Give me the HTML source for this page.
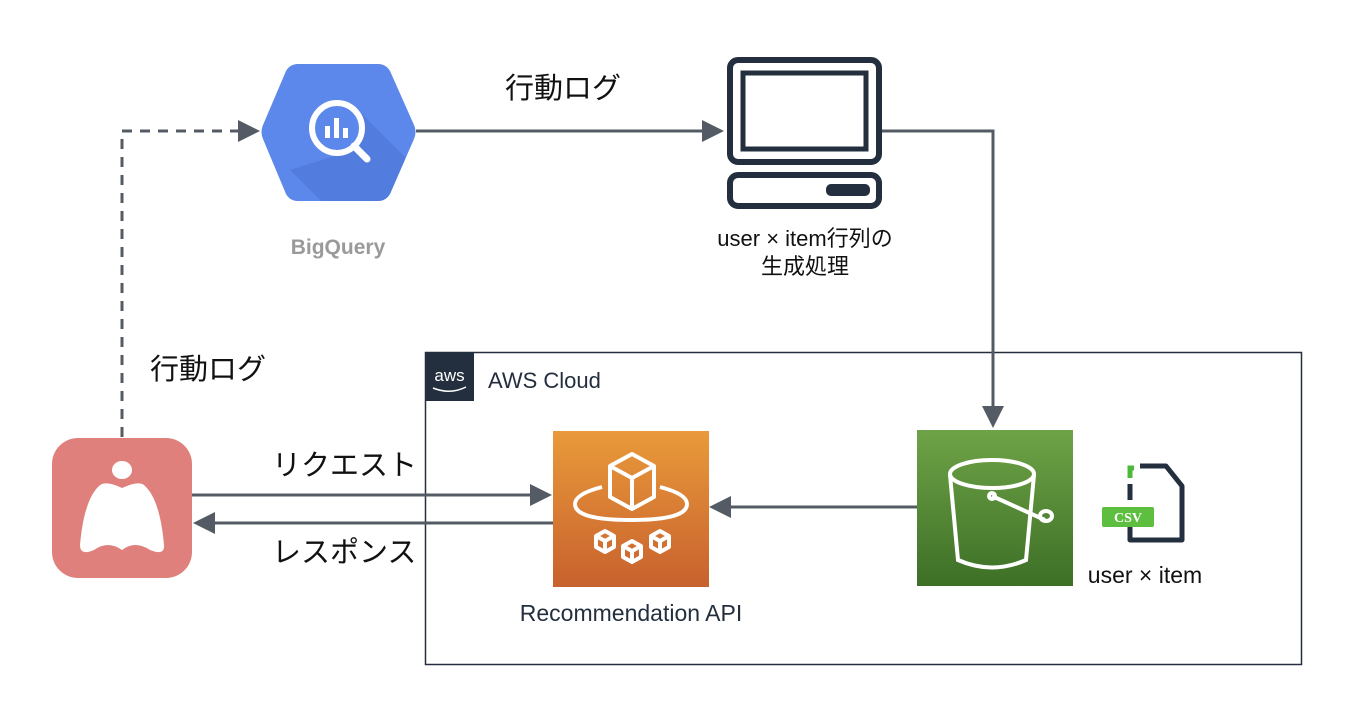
<!DOCTYPE html>
<html><head><meta charset="utf-8"><style>
body{margin:0;width:1348px;height:718px;background:#fff;overflow:hidden;font-family:"Liberation Sans","Noto Sans CJK JP",sans-serif}
</style></head><body>
<svg width="1348" height="718" viewBox="0 0 1348 718" xmlns="http://www.w3.org/2000/svg" style="position:absolute;left:0;top:0">
<defs>
<linearGradient id="og" x1="0" y1="0" x2="0" y2="1"><stop offset="0" stop-color="#E99A3A"/><stop offset="1" stop-color="#C8612E"/></linearGradient>
<linearGradient id="gg" x1="0" y1="0" x2="0" y2="1"><stop offset="0" stop-color="#6FA347"/><stop offset="1" stop-color="#3D6F26"/></linearGradient>
<clipPath id="hex"><path d="M298 64 H378 Q386 64 390 71 L414 125 Q417 132 414 139 L390 194 Q386 201 378 201 H298 Q290 201 286 194 L263 139 Q260 132 263 125 L286 71 Q290 64 298 64Z"/></clipPath>
</defs>
<!-- AWS box -->
<rect x="425.5" y="352.5" width="876" height="312" fill="none" stroke="#232F3E" stroke-width="1.5"/>
<rect x="425" y="352" width="49" height="49" fill="#232F3E"/>
<text x="449.5" y="381" font-size="17" fill="#fff" text-anchor="middle" font-family="Liberation Sans,sans-serif">aws</text>
<path d="M433 388 Q450 395 466 387" stroke="#fff" stroke-width="1.5" fill="none"/>
<text x="488" y="388" font-size="22" fill="#232F3E">AWS Cloud</text>

<!-- connectors -->
<path d="M122 437 V131 H244" stroke="#545B64" stroke-width="3" fill="none" stroke-dasharray="10,8"/>
<polygon points="260,131 238,120 238,142" fill="#545B64"/>
<path d="M416 131 H706" stroke="#545B64" stroke-width="3" fill="none"/>
<polygon points="724,131 702,120 702,142" fill="#545B64"/>
<path d="M882 131 H993 V410" stroke="#545B64" stroke-width="3" fill="none"/>
<polygon points="993,428 982,406 1004,406" fill="#545B64"/>
<path d="M192 495 H535" stroke="#545B64" stroke-width="3" fill="none"/>
<polygon points="552,495 530,484 530,506" fill="#545B64"/>
<path d="M553 523 H212" stroke="#545B64" stroke-width="3" fill="none"/>
<polygon points="193,523 215,512 215,534" fill="#545B64"/>
<path d="M917 507 H728" stroke="#545B64" stroke-width="3" fill="none"/>
<polygon points="709,507 731,496 731,518" fill="#545B64"/>

<!-- BigQuery -->
<path d="M298 64 H378 Q386 64 390 71 L414 125 Q417 132 414 139 L390 194 Q386 201 378 201 H298 Q290 201 286 194 L263 139 Q260 132 263 125 L286 71 Q290 64 298 64Z" fill="#5B88EA"/>
<path d="M358 110 L440 192 L380 260 L290 170 L360 148Z" fill="#4A74D4" opacity="0.55" clip-path="url(#hex)"/>
<circle cx="337" cy="128" r="25" fill="#5B88EA" stroke="#fff" stroke-width="6"/>
<line x1="354" y1="146" x2="367" y2="159" stroke="#fff" stroke-width="7" stroke-linecap="round"/>
<rect x="325" y="126" width="5" height="12" fill="#fff"/><rect x="334" y="118" width="5" height="20" fill="#fff"/><rect x="343" y="128" width="5" height="10" fill="#fff"/>
<text x="338" y="254" font-size="21" font-weight="bold" fill="#9A9A9A" text-anchor="middle">BigQuery</text>

<!-- computer -->
<rect x="730" y="60" width="149" height="102" rx="8" fill="none" stroke="#232F3E" stroke-width="6"/>
<rect x="743" y="73" width="123" height="76" fill="none" stroke="#232F3E" stroke-width="5"/>
<rect x="730" y="175" width="149" height="31" rx="8" fill="none" stroke="#232F3E" stroke-width="6"/>
<rect x="826" y="184" width="44" height="12" rx="5" fill="#232F3E"/>
<text x="805" y="246" font-size="22" fill="#111" text-anchor="middle">user × item行列の</text>
<text x="805" y="274" font-size="22" fill="#111" text-anchor="middle">生成処理</text>

<!-- labels -->
<text x="505" y="98" font-size="29" fill="#111">行動ログ</text>
<text x="150" y="379" font-size="29" fill="#111">行動ログ</text>
<text x="272" y="475" font-size="29" fill="#111">リクエスト</text>
<text x="272" y="562" font-size="29" fill="#111">レスポンス</text>

<!-- app icon -->
<rect x="52" y="438" width="140" height="140" rx="26" fill="#E0807C"/>
<ellipse cx="122" cy="470" rx="10" ry="9" fill="#fff"/>
<path d="M122 488 Q140 480 145 486 Q160 500 164 545 Q165 556 150 550 Q135 540 122 550 Q108 540 94 550 Q80 556 80 545 Q84 500 99 486 Q105 480 122 488Z" fill="#fff"/>

<!-- orange -->
<rect x="553" y="431" width="156" height="156" fill="url(#og)"/>
<g stroke="#fff" stroke-width="4" fill="none" stroke-linejoin="round">
<path d="M610 466 L632 454 L654 466 L654 497 L632 509 L610 497Z M610 466 L632 478 L654 466 M632 478 V509"/>
<path d="M602 487 Q575 494 575 504 Q575 520 631 520 Q687 520 687 504 Q687 494 660 487"/>
<path d="M596 536 l9 -5 9 5 v11 l-9 5 -9 -5z M596 536 l9 5 9 -5 M605 541 v11"/>
<path d="M623 546 l9 -5 9 5 v11 l-9 5 -9 -5z M623 546 l9 5 9 -5 M632 551 v11"/>
<path d="M651 536 l9 -5 9 5 v11 l-9 5 -9 -5z M651 536 l9 5 9 -5 M660 541 v11"/>
</g>
<text x="631" y="621" font-size="23" fill="#232F3E" text-anchor="middle">Recommendation API</text>

<!-- green -->
<rect x="917" y="430" width="156" height="156" fill="url(#gg)"/>
<g stroke="#fff" stroke-width="4" fill="none">
<ellipse cx="992" cy="474" rx="42" ry="14"/>
<path d="M950 475 L958 560 Q992 575 1026 560 L1034 475"/>
<path d="M992 496 L1045 520"/><circle cx="992" cy="496" r="3"/>
<ellipse cx="1046" cy="516" rx="6" ry="5"/>
</g>

<!-- csv -->
<path d="M1130 478 V468 H1134" stroke="#4DB93A" stroke-width="5" fill="none"/>
<path d="M1140 466 H1166 L1182 486 V540 H1130 V520" stroke="#232F3E" stroke-width="5" fill="none" stroke-linejoin="round"/>
<path d="M1130 484 V500" stroke="#232F3E" stroke-width="5"/>
<rect x="1102" y="507" width="52" height="20" rx="2" fill="#5DBE3F"/>
<text x="1128" y="522" font-size="14" font-weight="bold" fill="#fff" text-anchor="middle" font-family="Liberation Serif,serif">CSV</text>
<text x="1145" y="583" font-size="23" fill="#111" text-anchor="middle">user × item</text>
</svg>
</body></html>
